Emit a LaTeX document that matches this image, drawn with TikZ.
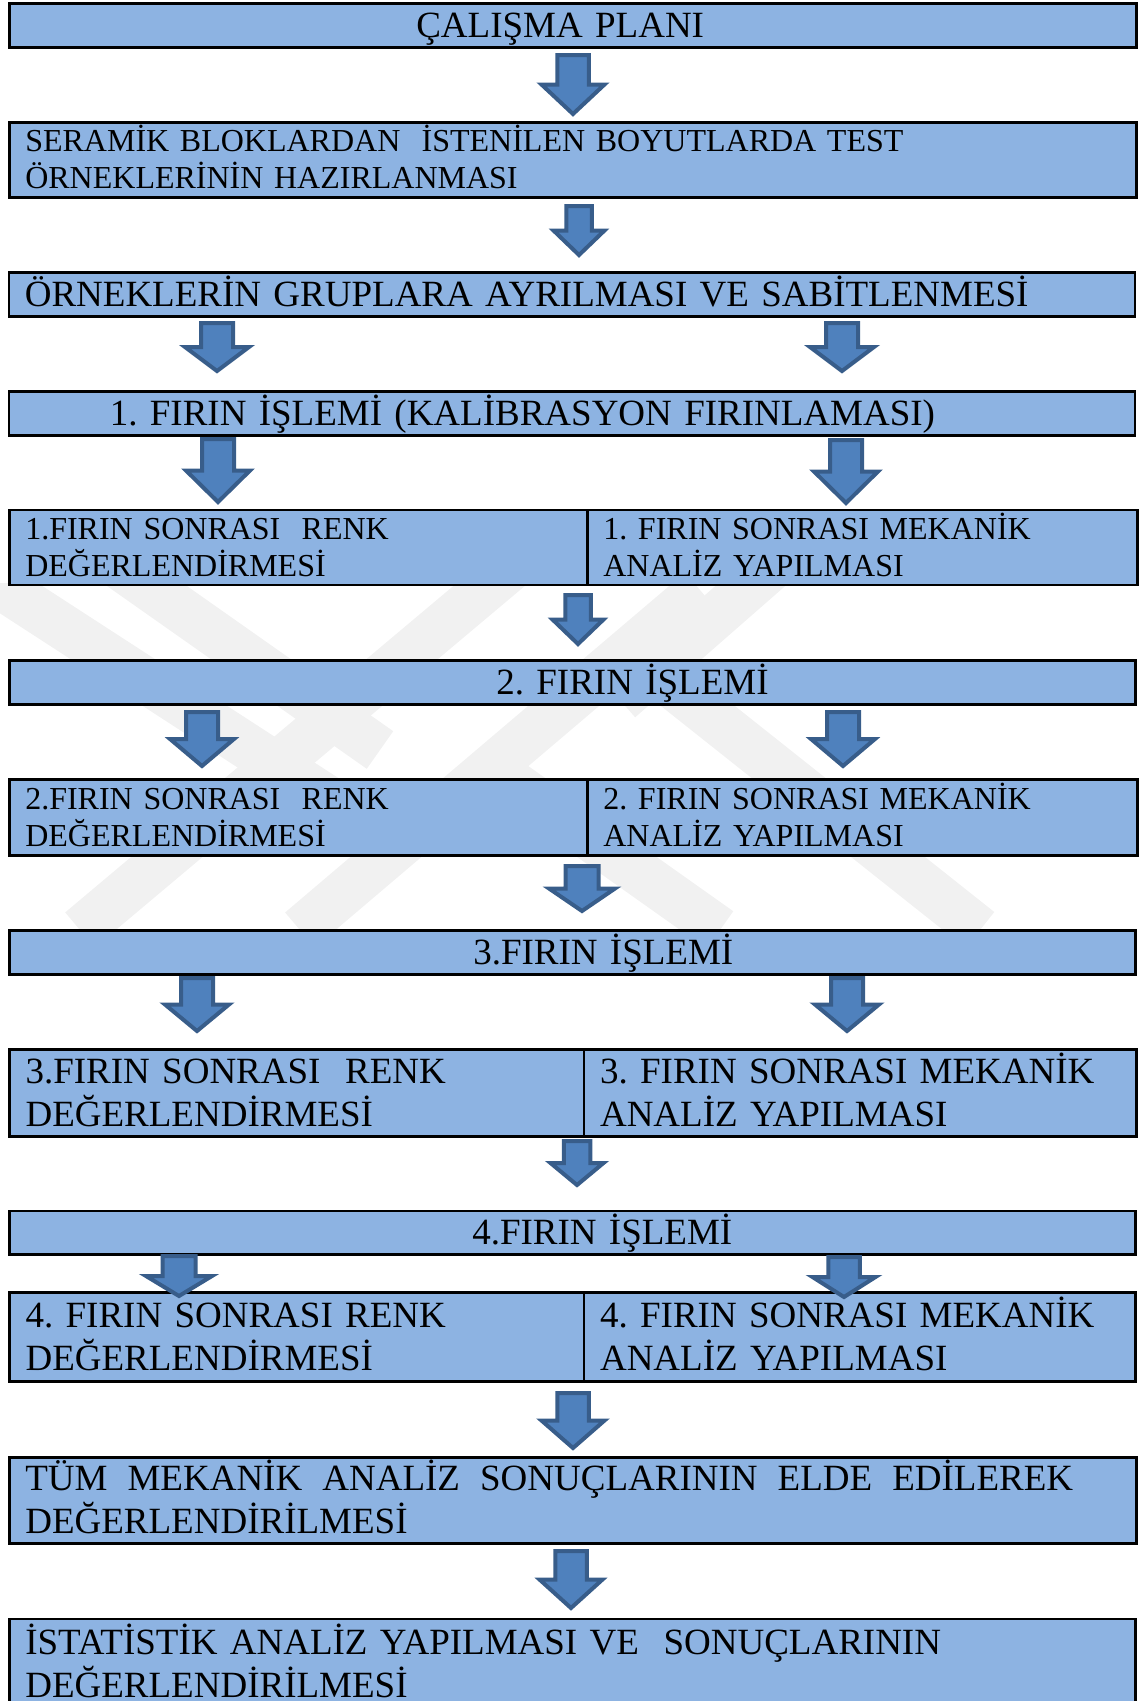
\documentclass[tikz,border=0pt]{standalone}
\usepackage{fontspec}
\setmainfont{Liberation Serif}
\frenchspacing

\definecolor{box_blue}{HTML}{8DB3E2}
\definecolor{arrow_blue}{HTML}{4F81BD}
\definecolor{arrow_edge}{HTML}{385D8A}
\definecolor{wm_gray}{HTML}{F1F1F1}

\tikzset{
  plan_box/.style={rectangle,draw=black,line width=2.6pt,fill=box_blue,anchor=north west,
    inner xsep=16pt,inner ysep=0pt,align=left,text height=24.2pt,text depth=0pt,
    font=\fontsize{37}{43}\selectfont},
  two_line/.style={text depth=43pt},
  small_two/.style={font=\fontsize{32}{37}\selectfont,text height=21pt,text depth=37pt},
  block_arrow/.style={fill=arrow_blue,draw=arrow_edge,line width=4pt,line join=miter},
  wm_band/.style={draw=wm_gray,line width=46pt},
}

\begin{document}
\begin{tikzpicture}[
  x=1pt, y=-1pt,
  every node/.style={color=black},
  ]
  \useasboundingbox (0,0) rectangle (1139,1701);
  \clip (0,0) rectangle (1139,1701);

  % faint watermark behind the chart
  \begin{scope}
    \clip (0,583) rectangle (1139,935);
    \draw[wm_band] (-40,560) -- (330,800);
    \draw[wm_band] (110,560) -- (380,750);
    \draw[wm_band] (80,930) -- (520,560);
    \draw[wm_band] (300,930) -- (700,590);
    \draw[wm_band] (620,700) -- (780,560);
    \draw[wm_band] (480,760) -- (720,930);
    \draw[wm_band] (640,660) -- (980,930);
  \end{scope}

  \node[plan_box,minimum width=1127pt,minimum height=44pt,text width=1095pt] (plan) at (8,2)
    {\hspace*{391pt}ÇALIŞMA PLANI};
  \node[plan_box,small_two,minimum width=1127pt,minimum height=75pt,text width=1095pt] (prep) at (8,121)
    {SERAMİK BLOKLARDAN\ \ İSTENİLEN BOYUTLARDA TEST\\ÖRNEKLERİNİN HAZIRLANMASI};
  \node[plan_box,minimum width=1126pt,minimum height=44pt,text width=1094pt] (groups) at (7.5,271)
    {ÖRNEKLERİN GRUPLARA AYRILMASI VE SABİTLENMESİ};
  \node[plan_box,minimum width=1126pt,minimum height=44pt,text width=1094pt] (fire1) at (7.5,390)
    {\hspace*{85pt}1. FIRIN İŞLEMİ (KALİBRASYON FIRINLAMASI)};

  \node[plan_box,small_two,minimum width=578pt,minimum height=75pt,text width=546pt] (color1) at (8,508.5)
    {1.FIRIN SONRASI\ \ RENK\\DEĞERLENDİRMESİ};
  \node[plan_box,small_two,minimum width=550pt,minimum height=75pt,text width=518pt] (mech1) at (586,508.5)
    {1. FIRIN SONRASI MEKANİK\\ANALİZ YAPILMASI};

  \node[plan_box,minimum width=1126pt,minimum height=44pt,text width=1094pt] (fire2) at (8,659)
    {\hspace*{471pt}2. FIRIN İŞLEMİ};

  \node[plan_box,small_two,minimum width=578pt,minimum height=76pt,text width=546pt] (color2) at (8,778)
    {2.FIRIN SONRASI\ \ RENK\\DEĞERLENDİRMESİ};
  \node[plan_box,small_two,minimum width=550pt,minimum height=76pt,text width=518pt] (mech2) at (586,778)
    {2. FIRIN SONRASI MEKANİK\\ANALİZ YAPILMASI};

  \node[plan_box,minimum width=1126pt,minimum height=44pt,text width=1094pt] (fire3) at (8,929)
    {\hspace*{448pt}3.FIRIN İŞLEMİ};

  \node[plan_box,two_line,minimum width=574.5pt,minimum height=87pt,text width=542pt] (color3) at (8,1048)
    {3.FIRIN SONRASI\ \ RENK\\DEĞERLENDİRMESİ};
  \node[plan_box,two_line,minimum width=552.5pt,minimum height=87pt,text width=520pt] (mech3) at (582.5,1048)
    {3. FIRIN SONRASI MEKANİK\\ANALİZ YAPILMASI};

  \node[plan_box,minimum width=1126pt,minimum height=43.5pt,text width=1094pt] (fire4) at (8,1209.5)
    {\hspace*{447pt}4.FIRIN İŞLEMİ};

  \node[plan_box,two_line,minimum width=574.5pt,minimum height=89pt,text width=542pt] (color4) at (8,1291)
    {4. FIRIN SONRASI RENK\\DEĞERLENDİRMESİ};
  \node[plan_box,two_line,minimum width=551.5pt,minimum height=89pt,text width=519pt] (mech4) at (582.5,1291)
    {4. FIRIN SONRASI MEKANİK\\ANALİZ YAPILMASI};

  \node[plan_box,two_line,minimum width=1127pt,minimum height=86pt,text width=1095pt] (results) at (8,1456)
    {\hbox to 1048pt{TÜM\hfill MEKANİK\hfill ANALİZ\hfill SONUÇLARININ\hfill ELDE\hfill EDİLEREK}\\DEĞERLENDİRİLMESİ};
  \node[plan_box,two_line,minimum width=1126pt,minimum height=89pt,text width=1094pt] (stats) at (8,1617.7)
    {İSTATİSTİK ANALİZ YAPILMASI VE\ \ SONUÇLARININ\\DEĞERLENDİRİLMESİ};

  % block arrows: centre x / top / tip / width
  \foreach \cx/\ty/\by/\w in {573/55/114/63, 579/206/255/51,
      217/323/371/64, 842/323/371/64, 218/439/502/64, 846/440/503/64,
      578/595/644/51, 202/712/766/64, 843/712/766/64, 582/866/911/66,
      197/978/1031/64, 847/978/1031/64, 577/1141/1185/53,
      179/1256/1296/66, 844/1257/1297/63, 573/1393/1448/63, 571/1551/1608/63}{
    \draw[block_arrow] ({\cx-\w/4},\ty) -- ({\cx+\w/4},\ty) -- ({\cx+\w/4},{(\ty+\by)/2})
      -- ({\cx+\w/2},{(\ty+\by)/2}) -- (\cx,\by) -- ({\cx-\w/2},{(\ty+\by)/2})
      -- ({\cx-\w/4},{(\ty+\by)/2}) -- cycle;
  }

\end{tikzpicture}
\end{document}
